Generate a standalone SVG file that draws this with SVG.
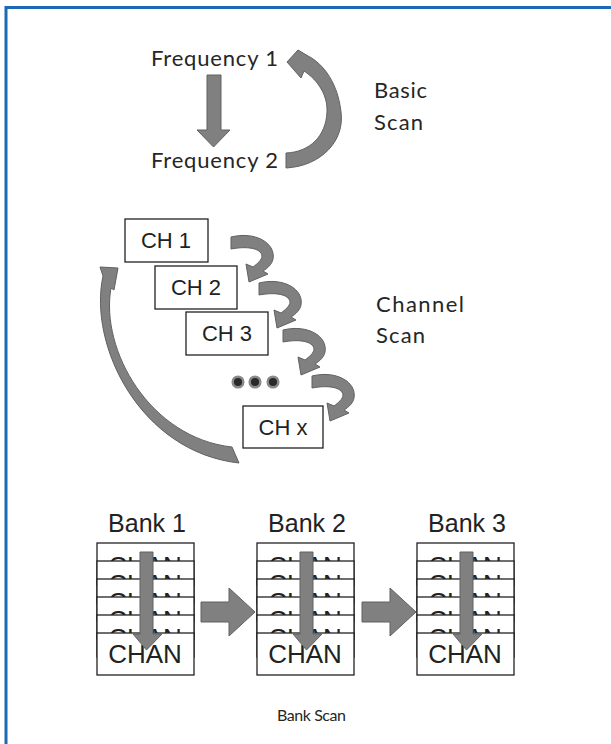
<svg xmlns="http://www.w3.org/2000/svg" width="611" height="744" viewBox="0 0 611 744">
<style>
.lbl{font-family:Lato,"Open Sans","Liberation Sans",sans-serif;font-size:22px;fill:#262626}
.ar{font-family:"Liberation Sans",Arial,sans-serif;fill:#222}
.box{fill:#fff;stroke:#222;stroke-width:1.3}
.arrow{fill:#808080;stroke:#616161;stroke-width:1}
.dot{fill:#2a2a2a;stroke:#8a8a8a;stroke-width:2.5}
.chan{font-family:"Liberation Sans",Arial,sans-serif;fill:#222;font-size:26px;text-anchor:middle}
</style>
<defs>
<path id="smallArrow" class="arrow" d="M0,-6 C24,-12 45,0 42,16 C41,21 37,25 32,28 L37,31 L18,39 L15,21 L22,24 C26,21 31,17 31,13 C30,5 16,3 0,6 Z"/>
<clipPath id="s0"><rect x="0" y="543" width="611" height="18"/></clipPath>
<clipPath id="s1"><rect x="0" y="561" width="611" height="18"/></clipPath>
<clipPath id="s2"><rect x="0" y="579" width="611" height="18"/></clipPath>
<clipPath id="s3"><rect x="0" y="597" width="611" height="18"/></clipPath>
<clipPath id="s4"><rect x="0" y="615" width="611" height="18"/></clipPath>
</defs>
<rect width="611" height="744" fill="#fff"/>
<path id="frame" d="M6,744 V7.5 H611" fill="none" stroke="#1e69b3" stroke-width="3"/>

<g id="basic-scan">
  <g id="freq1"><text class="lbl" x="151" y="66" textLength="127">Frequency 1</text></g>
  <g id="freq2"><text class="lbl" x="151" y="168" textLength="127">Frequency 2</text></g>
  <g id="basic-label"><text class="lbl" x="374" y="98" textLength="53">Basic</text><text class="lbl" x="374" y="130" textLength="49">Scan</text></g>
</g>

<g id="channel-scan">
  <g id="ch1"><rect class="box" x="125" y="219" width="83" height="43"/><text class="ar" x="166" y="248" font-size="22" text-anchor="middle">CH 1</text></g>
  <g id="ch2"><rect class="box" x="155" y="266" width="82" height="43"/><text class="ar" x="196" y="295" font-size="22" text-anchor="middle">CH 2</text></g>
  <g id="ch3"><rect class="box" x="186" y="312" width="82" height="43"/><text class="ar" x="227" y="341" font-size="22" text-anchor="middle">CH 3</text></g>
  <g id="dots"><circle class="dot" cx="238" cy="382" r="5.3"/><circle class="dot" cx="255" cy="382" r="5.3"/><circle class="dot" cx="273" cy="382" r="5.3"/></g>
  <g id="chx"><rect class="box" x="243" y="406" width="80" height="42"/><text class="ar" x="283" y="435" font-size="22" text-anchor="middle">CH x</text></g>
  <g id="channel-label"><text class="lbl" x="376" y="312" textLength="88">Channel</text><text class="lbl" x="376" y="343" textLength="49">Scan</text></g>
</g>

<g id="bank-scan">
  <g id="bank1">
    <text class="ar" x="147" y="532" font-size="25" text-anchor="middle">Bank 1</text>
    <rect class="box" x="97" y="543" width="97" height="42"/><text class="chan" x="145" y="575" clip-path="url(#s0)">CHAN</text>
    <rect class="box" x="97" y="561" width="97" height="42"/><text class="chan" x="145" y="593" clip-path="url(#s1)">CHAN</text>
    <rect class="box" x="97" y="579" width="97" height="42"/><text class="chan" x="145" y="611" clip-path="url(#s2)">CHAN</text>
    <rect class="box" x="97" y="597" width="97" height="42"/><text class="chan" x="145" y="629" clip-path="url(#s3)">CHAN</text>
    <rect class="box" x="97" y="615" width="97" height="42"/><text class="chan" x="145" y="647" clip-path="url(#s4)">CHAN</text>
    <rect class="box" x="97" y="633" width="97" height="42"/><text class="chan" x="145" y="663">CHAN</text>
    <path class="arrow" d="M140,552 H153 V634 H162 L146.5,650 L133,634 H140 Z"/>
  </g>
  <g id="bank2">
    <text class="ar" x="307" y="532" font-size="25" text-anchor="middle">Bank 2</text>
    <rect class="box" x="257" y="543" width="97" height="42"/><text class="chan" x="305" y="575" clip-path="url(#s0)">CHAN</text>
    <rect class="box" x="257" y="561" width="97" height="42"/><text class="chan" x="305" y="593" clip-path="url(#s1)">CHAN</text>
    <rect class="box" x="257" y="579" width="97" height="42"/><text class="chan" x="305" y="611" clip-path="url(#s2)">CHAN</text>
    <rect class="box" x="257" y="597" width="97" height="42"/><text class="chan" x="305" y="629" clip-path="url(#s3)">CHAN</text>
    <rect class="box" x="257" y="615" width="97" height="42"/><text class="chan" x="305" y="647" clip-path="url(#s4)">CHAN</text>
    <rect class="box" x="257" y="633" width="97" height="42"/><text class="chan" x="305" y="663">CHAN</text>
    <path class="arrow" d="M300,552 H313 V634 H322 L306.5,650 L293,634 H300 Z"/>
  </g>
  <g id="bank3">
    <text class="ar" x="467" y="532" font-size="25" text-anchor="middle">Bank 3</text>
    <rect class="box" x="417" y="543" width="97" height="42"/><text class="chan" x="465" y="575" clip-path="url(#s0)">CHAN</text>
    <rect class="box" x="417" y="561" width="97" height="42"/><text class="chan" x="465" y="593" clip-path="url(#s1)">CHAN</text>
    <rect class="box" x="417" y="579" width="97" height="42"/><text class="chan" x="465" y="611" clip-path="url(#s2)">CHAN</text>
    <rect class="box" x="417" y="597" width="97" height="42"/><text class="chan" x="465" y="629" clip-path="url(#s3)">CHAN</text>
    <rect class="box" x="417" y="615" width="97" height="42"/><text class="chan" x="465" y="647" clip-path="url(#s4)">CHAN</text>
    <rect class="box" x="417" y="633" width="97" height="42"/><text class="chan" x="465" y="663">CHAN</text>
    <path class="arrow" d="M460,552 H473 V634 H482 L466.5,650 L453,634 H460 Z"/>
  </g>
  <g id="bank-label"><text class="lbl" x="277" y="721" style="font-size:16px" textLength="69">Bank Scan</text></g>
</g>

<g id="connectors">
  <path class="arrow" d="M207,75 H221 V130 H230 L213.5,147 L197,130 H207 Z"/>
  <path class="arrow" d="M286,168 C322,166 345,140 341,112 C338,84 324,64 308,56 L298,50 L287,62 L301,78 L304,71 C318,80 328,96 327,112 C326,136 310,152 286,153 Z"/>
  <use href="#smallArrow" x="231" y="243"/>
  <use href="#smallArrow" x="259" y="289"/>
  <use href="#smallArrow" x="283" y="336"/>
  <use href="#smallArrow" x="312" y="382"/>
  <path class="arrow" d="M111,288 L114,290 L118,268 L100,267 L103,276 C88,345 140,452 239,463 L232,447 C150,438 100,350 111,288 Z"/>
  <path class="arrow" d="M201,602 H229 V588 L255,612 L229,636 V622 H201 Z"/>
  <path class="arrow" d="M362,602 H390 V588 L416,612 L390,636 V622 H362 Z"/>
</g>
</svg>
